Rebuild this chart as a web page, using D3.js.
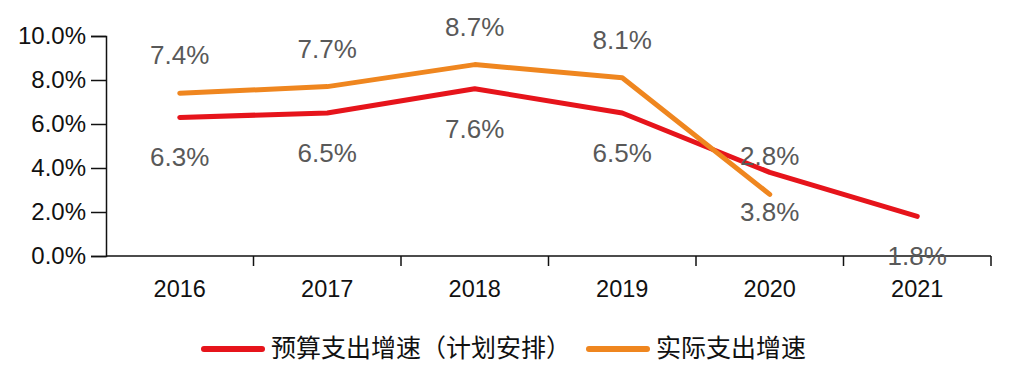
<!DOCTYPE html>
<html>
<head>
<meta charset="utf-8">
<script src="https://cdn.jsdelivr.net/npm/d3@7"></script>
<style>
  body { margin: 0; background: #fff; }
  text { font-family: "Liberation Sans", Arial, "Noto Sans CJK SC", sans-serif; }
</style>
</head>
<body>
<div id="vis"></div>
<script>
const years = ["2016", "2017", "2018", "2019", "2020", "2021"];
const budgetGrowth = [6.3, 6.5, 7.6, 6.5, 3.8, 1.8];
const actualGrowth = [7.4, 7.7, 8.7, 8.1, 2.8];
const yTicks = [0, 2, 4, 6, 8, 10];
const seriesNames = ["预算支出增速（计划安排）", "实际支出增速"];

const layout = {
  width: 1018,
  height: 377,
  left: 106,
  right: 991,
  top: 36,
  bottom: 256
};

const colors = { budget: "#e6141b", actual: "#ef861f" };

let svg = d3.select("#vis").append("svg")
  .attr("width", layout.width)
  .attr("height", layout.height);

let xScale = d3.scaleBand()
  .domain(years)
  .range([layout.left, layout.right]);

let yScale = d3.scaleLinear()
  .domain([0, 10])
  .range([layout.bottom, layout.top]);

// y axis
let yAxis = svg.append("g")
  .attr("transform", `translate(${layout.left},0)`)
  .call(d3.axisLeft(yScale).tickValues(yTicks).tickSize(15).tickPadding(5)
    .tickFormat(d => d.toFixed(1) + "%"));
yAxis.selectAll("text").attr("font-size", 24).attr("fill", "#111");
yAxis.selectAll("line, .domain").attr("stroke", "#111").attr("stroke-width", 1.5);

// x axis, ticks sit between the years
let xAxis = svg.append("g")
  .attr("transform", `translate(0,${layout.bottom})`)
  .call(d3.axisBottom(xScale).tickSize(0).tickPadding(24));
xAxis.selectAll("text").attr("font-size", 23.5).attr("fill", "#111");
xAxis.select(".domain").attr("d", `M${layout.left},0H${layout.right}`)
  .attr("stroke", "#111").attr("stroke-width", 1.5);
xAxis.selectAll(".sep").data(years).join("line")
  .attr("class", "sep")
  .attr("x1", d => xScale(d) + xScale.bandwidth())
  .attr("x2", d => xScale(d) + xScale.bandwidth())
  .attr("y1", 0).attr("y2", 10)
  .attr("stroke", "#111").attr("stroke-width", 1.5);

const cx = i => xScale(years[i]) + xScale.bandwidth() / 2;

function drawSeries(values, color, labelDy) {
  svg.append("path")
    .datum(values)
    .attr("fill", "none")
    .attr("stroke", color)
    .attr("stroke-width", 5)
    .attr("stroke-linecap", "round")
    .attr("stroke-linejoin", "round")
    .attr("d", d3.line().x((d, i) => cx(i)).y(d => yScale(d)));

  svg.append("g").selectAll("text").data(values).join("text")
    .attr("x", (d, i) => cx(i))
    .attr("y", d => yScale(d) + labelDy)
    .attr("text-anchor", "middle")
    .attr("dominant-baseline", "central")
    .attr("font-size", 26)
    .attr("fill", "#595959")
    .text(d => d.toFixed(1) + "%");
}

drawSeries(budgetGrowth, colors.budget, 40);
drawSeries(actualGrowth, colors.actual, -38);

// legend
const legendItems = [
  { name: seriesNames[0], color: colors.budget, x: 204 },
  { name: seriesNames[1], color: colors.actual, x: 589 }
];
let legend = svg.append("g").attr("transform", "translate(0,349)");
legendItems.forEach(item => {
  legend.append("line")
    .attr("x1", item.x).attr("x2", item.x + 58)
    .attr("y1", 0).attr("y2", 0)
    .attr("stroke", item.color)
    .attr("stroke-width", 6)
    .attr("stroke-linecap", "round");
  legend.append("text")
    .attr("x", item.x + 67)
    .attr("y", -1)
    .attr("dominant-baseline", "central")
    .attr("font-size", 25)
    .attr("fill", "#111")
    .attr("font-family", "'Noto Sans CJK SC', sans-serif")
    .text(item.name);
});
</script>
</body>
</html>
